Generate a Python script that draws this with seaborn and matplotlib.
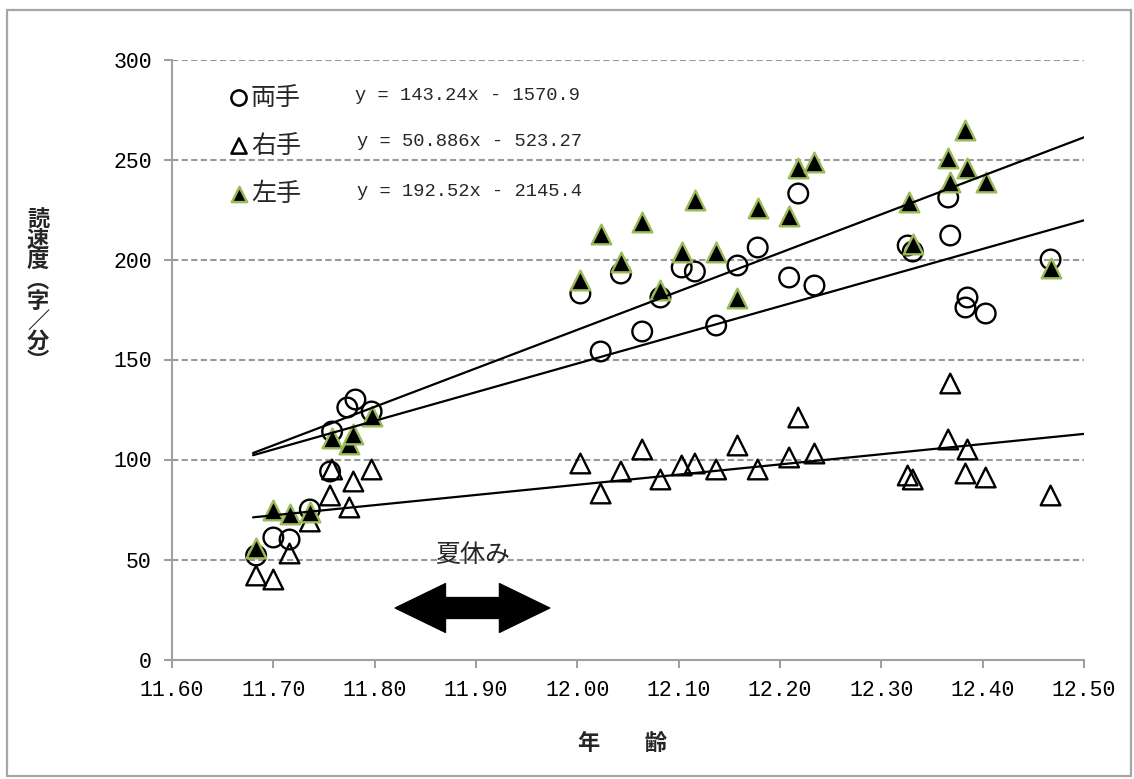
import matplotlib
matplotlib.use("Agg")
import matplotlib.pyplot as plt
import seaborn as sns
import pandas as pd
import numpy as np
from matplotlib.patches import Polygon, Rectangle

# ---- data: reading speed (characters / minute) by age ----
both_age = [11.683, 11.700, 11.716, 11.736, 11.756, 11.758, 11.773, 11.781, 11.797,
            12.003, 12.023, 12.043, 12.064, 12.082, 12.103, 12.116, 12.137, 12.158,
            12.178, 12.209, 12.218, 12.234,
            12.326, 12.331, 12.366, 12.368, 12.383, 12.385, 12.403, 12.467]
both_speed = [52, 61, 60, 75, 94, 114, 126, 130, 124,
              183, 154, 193, 164, 181, 196, 194, 167, 197,
              206, 191, 233, 187,
              207, 204, 231, 212, 176, 181, 173, 200]

right_age = [11.683, 11.700, 11.716, 11.736, 11.756, 11.758, 11.775, 11.779, 11.797,
             12.003, 12.023, 12.043, 12.064, 12.082, 12.103, 12.116, 12.137, 12.158,
             12.178, 12.209, 12.218, 12.234,
             12.326, 12.331, 12.366, 12.368, 12.383, 12.385, 12.403, 12.467]
right_speed = [42, 40, 53, 69, 82, 95, 76, 89, 95,
               98, 83, 94, 105, 90, 97, 98, 95, 107,
               95, 101, 121, 103,
               92, 90, 110, 138, 93, 105, 91, 82]

left_age = [11.683, 11.700, 11.716, 11.736, 11.758, 11.775, 11.779, 11.797,
            12.003, 12.023, 12.043, 12.064, 12.082, 12.103, 12.116, 12.137, 12.158,
            12.178, 12.209, 12.218, 12.234,
            12.327, 12.331, 12.366, 12.368, 12.383, 12.385, 12.403, 12.467]
left_speed = [56, 75, 73, 74, 111, 108, 113, 122,
              190, 213, 199, 219, 185, 204, 230, 204, 181,
              226, 222, 246, 249,
              229, 208, 251, 239, 265, 246, 239, 196]

series_names = ["両手", "右手", "左手"]
trend_slopes = [143.24, 50.886, 192.52]
trend_intercepts = [-1570.9, -523.27, -2145.4]
trend_labels = ["y = 143.24x - 1570.9", "y = 50.886x - 523.27", "y = 192.52x - 2145.4"]
trend_span = [11.68, 12.50]

x_tick_values = [11.6, 11.7, 11.8, 11.9, 12.0, 12.1, 12.2, 12.3, 12.4, 12.5]
x_tick_labels = ["11.60", "11.70", "11.80", "11.90", "12.00",
                 "12.10", "12.20", "12.30", "12.40", "12.50"]
y_tick_values = [0, 50, 100, 150, 200, 250, 300]
y_tick_labels = ["0", "50", "100", "150", "200", "250", "300"]

x_title = "年　　齢"
y_title = "\n".join(["読", "速", "度", "︵", "字", "／", "分", "︶"])

summer_span = [11.820, 11.973]
summer_level = 25.75
summer_label = "夏休み"

# ---- styling ----
sns.set_theme(style="white")
plt.rcParams['font.family'] = ['Noto Sans CJK JP', 'DejaVu Sans']
NUM_FONT = 'Liberation Mono'
GREEN = "#9BBB59"
AXIS_GREY = "#A0A0A0"
GRID_GREY = "#999999"

W, H = 1134, 779
fig = plt.figure(figsize=(W / 100, H / 100), dpi=100)
ax = fig.add_axes([172 / W, 1 - 659.5 / H, (1084 - 172) / W, (659.5 - 59.5) / H])

df = pd.concat([
    pd.DataFrame({"age": both_age, "speed": both_speed, "hand": series_names[0]}),
    pd.DataFrame({"age": right_age, "speed": right_speed, "hand": series_names[1]}),
    pd.DataFrame({"age": left_age, "speed": left_speed, "hand": series_names[2]}),
], ignore_index=True)

# horizontal dashed gridlines
for yv in y_tick_values[1:]:
    ax.axhline(yv, color=GRID_GREY, lw=1.5, ls=(0, (3, 1.6)), zorder=1)

marker_style = {
    series_names[0]: dict(marker="o", color="black", facecolor="none", edgecolor="black"),
    series_names[1]: dict(marker="^", color="black", facecolor="none", edgecolor="black"),
    series_names[2]: dict(marker="^", color="black", facecolor="black", edgecolor=GREEN),
}
for name in series_names:
    sub = df[df["hand"] == name]
    sns.scatterplot(data=sub, x="age", y="speed", s=200, linewidth=1.7,
                    ax=ax, zorder=3, legend=False, clip_on=False, **marker_style[name])

# linear trendlines from the stated equations
for slope, icpt in zip(trend_slopes, trend_intercepts):
    tx = np.array(trend_span)
    tdf = pd.DataFrame({"age": tx, "speed": slope * tx + icpt})
    sns.lineplot(data=tdf, x="age", y="speed", color="black", lw=1.6, ax=ax, zorder=4)

# summer-holiday double arrow
x0, x1 = summer_span
head = 0.050
shaft_h, head_h = 5.3, 12.3
yc = summer_level
verts = [(x0, yc), (x0 + head, yc + head_h), (x0 + head, yc + shaft_h),
         (x1 - head, yc + shaft_h), (x1 - head, yc + head_h), (x1, yc),
         (x1 - head, yc - head_h), (x1 - head, yc - shaft_h),
         (x0 + head, yc - shaft_h), (x0 + head, yc - head_h)]
ax.add_patch(Polygon(verts, closed=True, facecolor="black", edgecolor="black",
                     lw=0.8, zorder=5))
ax.text((x0 + x1) / 2, 52.5, summer_label, ha="center", va="center", fontsize=18, zorder=6)

# axes
ax.set_xlim(11.60, 12.50)
ax.set_ylim(0, 300)
ax.set_xticks(x_tick_values, labels=x_tick_labels)
ax.set_yticks(y_tick_values, labels=y_tick_labels)
for lab in ax.get_xticklabels() + ax.get_yticklabels():
    lab.set_fontfamily(NUM_FONT)
    lab.set_fontsize(15.5)
    lab.set_color("black")
ax.tick_params(axis="both", which="major", bottom=True, left=True, direction="out",
               length=5.5, width=1.5, color=AXIS_GREY)
ax.tick_params(axis="x", pad=9)
ax.tick_params(axis="y", pad=9)
for side in ["top", "right"]:
    ax.spines[side].set_visible(False)
for side in ["left", "bottom"]:
    ax.spines[side].set_color(AXIS_GREY)
    ax.spines[side].set_linewidth(1.5)
ax.set_xlabel("")
ax.set_ylabel("")
ax.set_facecolor("white")

# series keys and equations
key_rows = [98, 146, 194]
eq_rows = [96, 142, 191]
eq_x = [355, 357, 357]
for name, ky, ey, ex, eq in zip(series_names, key_rows, eq_rows, eq_x, trend_labels):
    st = marker_style[name]
    ax.scatter([(239 - 172) / 912], [(659.5 - ky) / 600], transform=ax.transAxes,
               s=120, marker=st["marker"], facecolor=st["facecolor"],
               edgecolor=st["edgecolor"], linewidth=1.8, zorder=6, clip_on=False)
    fig.text(251 / W, 1 - ky / H, name, ha="left", va="center", fontsize=18)
    fig.text(ex / W, 1 - ey / H, eq, ha="left", va="center",
             fontsize=13.5, family=NUM_FONT)

# axis titles (y title stacked vertically)
fig.text(622 / W, 1 - 743 / H, x_title, ha="center", va="center",
         fontsize=16, fontweight="bold")
fig.text(38 / W, 1 - 291 / H, y_title, ha="center", va="center",
         fontsize=16, fontweight="bold", linespacing=0.84, multialignment="center")

# outer chart frame
fig.patches.append(Rectangle((6.5 / W, 1 - 776 / H), (1131 - 6.5) / W, (776 - 9.5) / H,
                             transform=fig.transFigure, fill=False,
                             edgecolor="#A6A6A6", lw=1.6))

fig.savefig("out.png", dpi=100, facecolor="white")
